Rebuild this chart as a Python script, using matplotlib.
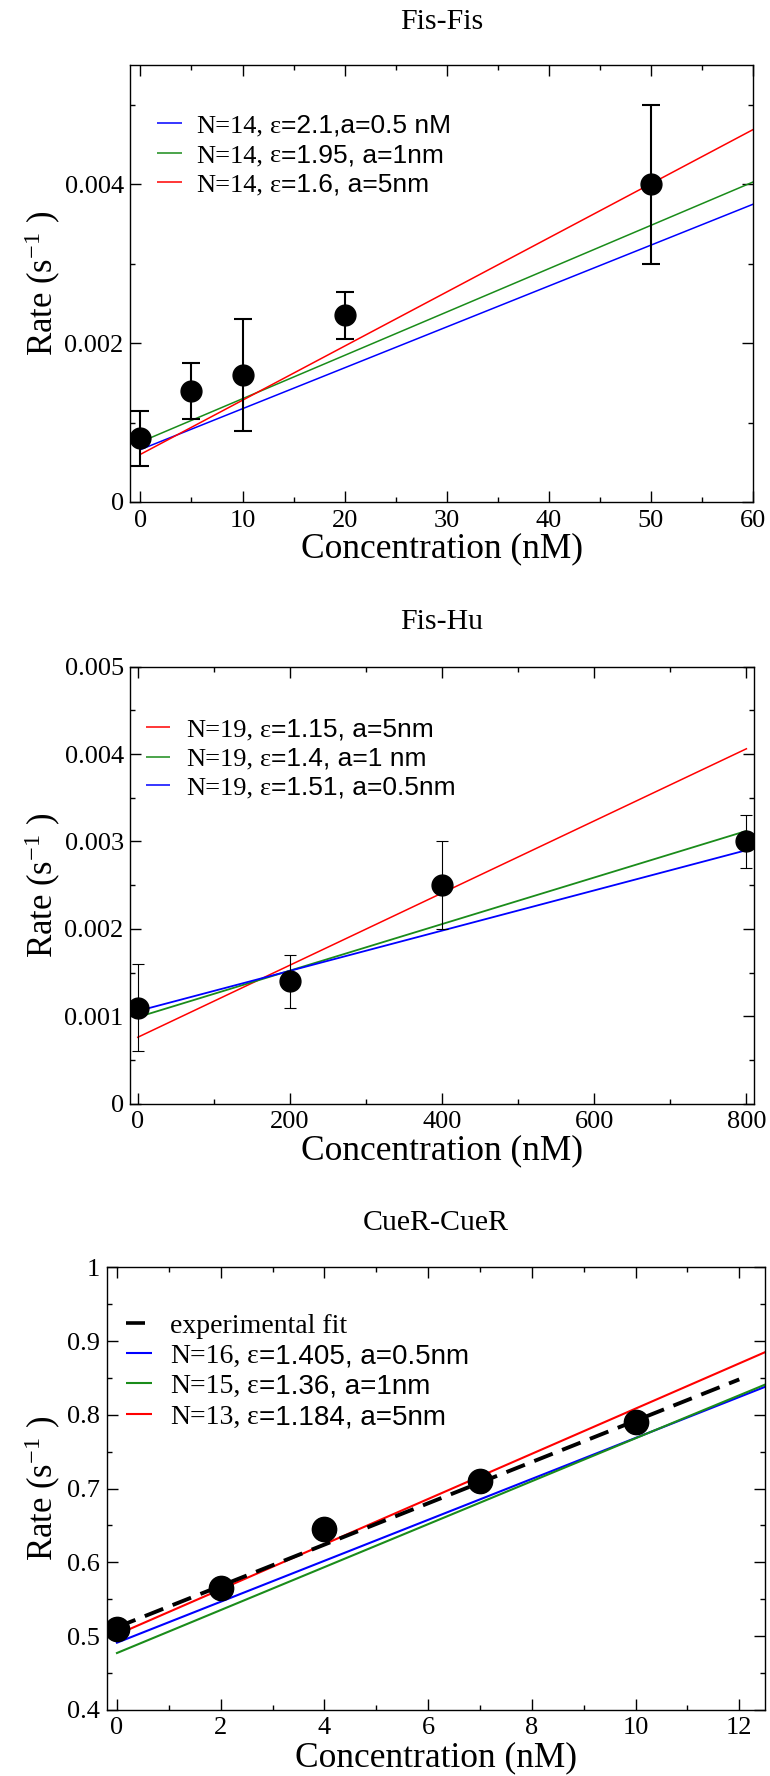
import matplotlib
matplotlib.use('Agg')
import matplotlib.pyplot as plt
from matplotlib.ticker import MultipleLocator, FuncFormatter

plt.rcParams['font.family'] = ['Liberation Serif', 'DejaVu Serif']
plt.rcParams['mathtext.fontset'] = 'custom'
plt.rcParams['mathtext.rm'] = 'Liberation Serif'
plt.rcParams['mathtext.it'] = 'Liberation Serif:italic'

# ---------------- data ----------------
# Panel 1: Fis-Fis
fisfis_conc = [0, 5, 10, 20, 50]
fisfis_rate = [0.0008, 0.0014, 0.0016, 0.00235, 0.0040]
fisfis_err = [0.00035, 0.00035, 0.0007, 0.0003, 0.0010]
fisfis_fit_conc = [0, 60]
fisfis_fit_blue = [0.00066, 0.00375]
fisfis_fit_green = [0.000755, 0.00403]
fisfis_fit_red = [0.00060, 0.00469]
fisfis_labels = [("N=14,", "=2.1,a=0.5 nM"),
                 ("N=14,", "=1.95, a=1nm"),
                 ("N=14,", "=1.6, a=5nm")]

# Panel 2: Fis-Hu
fishu_conc = [0, 200, 400, 800]
fishu_rate = [0.0011, 0.0014, 0.0025, 0.0030]
fishu_err = [0.0005, 0.0003, 0.0005, 0.0003]
fishu_fit_conc = [0, 800]
fishu_fit_red = [0.00076, 0.00406]
fishu_fit_green = [0.00099, 0.00312]
fishu_fit_blue = [0.00106, 0.00290]
fishu_labels = [("N=19,", "=1.15, a=5nm"),
                ("N=19,", "=1.4, a=1 nm"),
                ("N=19,", "=1.51, a=0.5nm")]

# Panel 3: CueR-CueR
cuer_conc = [0, 2, 4, 7, 10]
cuer_rate = [0.51, 0.565, 0.645, 0.71, 0.79]
cuer_exp_conc = [0, 12]
cuer_exp_fit = [0.512, 0.848]
cuer_fit_conc = [0, 12.5]
cuer_fit_blue = [0.491, 0.838]
cuer_fit_green = [0.477, 0.841]
cuer_fit_red = [0.502, 0.885]
cuer_exp_label = "experimental fit"
cuer_labels = [("N=16,", "=1.405, a=0.5nm"),
               ("N=15,", "=1.36, a=1nm"),
               ("N=13,", "=1.184, a=5nm")]

titles = ["Fis-Fis", "Fis-Hu", "CueR-CueR"]
xlabel = "Concentration (nM)"
ylabel = "Rate (s$^{\\mathregular{-1}}$ )"

# ---------------- style ----------------
BLUE = '#0000ff'
GREEN = '#1a8c1a'
RED = '#ff0000'
SERIF = 'Liberation Serif'
SANS = 'Liberation Sans'
TITLE_FS = 21.5
TICK_FS = 19
XLAB_FS = 25.5
YLAB_FS = 25

fig = plt.figure(figsize=(7.7, 17.76), dpi=100)
W, H = 770.0, 1776.0
renderer = fig.canvas.get_renderer()


def make_axes(left, right, top, bottom):
    return fig.add_axes([left / W, 1 - bottom / H, (right - left) / W, (bottom - top) / H])


def style_axes(ax, xmaj, xmin, ymaj, ymin, title, title_pad, xlab_y, ylab_x):
    ax.xaxis.set_major_locator(MultipleLocator(xmaj))
    ax.xaxis.set_minor_locator(MultipleLocator(xmin))
    ax.yaxis.set_major_locator(MultipleLocator(ymaj))
    ax.yaxis.set_minor_locator(MultipleLocator(ymin))
    fmt = FuncFormatter(lambda v, p: '%g' % round(v, 6))
    ax.xaxis.set_major_formatter(fmt)
    ax.yaxis.set_major_formatter(fmt)
    ax.tick_params(which='both', direction='in', top=True, right=True, width=1.0,
                   labelsize=TICK_FS, colors='black', labelfontfamily=SERIF)
    ax.tick_params(which='major', length=8)
    ax.tick_params(which='minor', length=3.6)
    ax.tick_params(axis='y', which='major', pad=4.7)
    ax.tick_params(axis='x', which='major', pad=5.5)
    for sp in ax.spines.values():
        sp.set_linewidth(1.0)
        sp.set_color('black')
    ax.set_title(title, fontsize=TITLE_FS, pad=title_pad, family=SERIF)
    ax.set_xlabel(xlabel, fontsize=XLAB_FS, family=SERIF)
    ax.set_ylabel(ylabel, fontsize=YLAB_FS, family=SERIF)
    ax.xaxis.set_label_coords(0.5, xlab_y)
    ax.yaxis.set_label_coords(ylab_x, 0.5)


def legend_row(ax, xf, yf, color, parts, line_px, gap_px, fs, lw=1.1, sample_px=None):
    """One legend entry: a short line sample followed by mixed-font text."""
    inv = ax.transAxes.inverted()
    x0, y0 = ax.transAxes.transform((xf, yf))
    L = sample_px if sample_px else line_px
    x1f, _ = inv.transform((x0 + L, y0))
    ax.plot([xf, x1f], [yf, yf], transform=ax.transAxes, color=color, lw=lw,
            solid_capstyle='butt', clip_on=False)
    em = fs * fig.dpi / 72.0
    yb = y0 - 0.355 * em
    x = x0 + line_px + gap_px
    for kind, txt in parts:
        if kind == 'space':
            x += txt * em
            continue
        fam = SERIF if kind == 'serif' else SANS
        xa, ya = inv.transform((x, yb))
        t = ax.text(xa, ya, txt, transform=ax.transAxes, ha='left', va='baseline',
                    family=fam, size=fs, color='black')
        x += t.get_window_extent(renderer).width


def model_parts(lab):
    return [('serif', lab[0]), ('space', 0.25), ('serif', '\u03b5'), ('sans', lab[1])]


# ---------------- panel 1 ----------------
ax1 = make_axes(130.2, 753.0, 65.3, 502.0)
ax1.plot(fisfis_fit_conc, fisfis_fit_blue, color=BLUE, lw=1.1)
ax1.plot(fisfis_fit_conc, fisfis_fit_green, color=GREEN, lw=1.1)
ax1.plot(fisfis_fit_conc, fisfis_fit_red, color=RED, lw=1.1)
ax1.errorbar(fisfis_conc, fisfis_rate, yerr=fisfis_err, fmt='o', color='black', ms=15,
             elinewidth=1.5, capsize=6.8, capthick=1.5, zorder=4)
ax1.set_xlim(-1, 60)
ax1.set_ylim(0, 0.0055)
style_axes(ax1, 10, 5, 0.002, 0.001, titles[0], 25.8, -0.0700, -0.1080)
for (lab, col, yf) in zip(fisfis_labels, [BLUE, GREEN, RED], [0.8672, 0.7996, 0.7323]):
    legend_row(ax1, 0.0424, yf, col, model_parts(lab), 25.0, 15.0, 19.0)

# ---------------- panel 2 ----------------
ax2 = make_axes(130.2, 754.0, 666.6, 1103.7)
ax2.plot(fishu_fit_conc, fishu_fit_red, color=RED, lw=1.1)
ax2.plot(fishu_fit_conc, fishu_fit_green, color=GREEN, lw=1.3)
ax2.plot(fishu_fit_conc, fishu_fit_blue, color=BLUE, lw=1.3)
ax2.errorbar(fishu_conc, fishu_rate, yerr=fishu_err, fmt='o', color='black', ms=15,
             elinewidth=0.8, capsize=4.0, capthick=0.8, zorder=4)
ax2.set_xlim(-10, 810)
ax2.set_ylim(0, 0.005)
style_axes(ax2, 200, 100, 0.001, 0.0005, titles[1], 27.2, -0.0690, -0.1080)
for (lab, col, yf) in zip(fishu_labels, [RED, GREEN, BLUE], [0.8607, 0.7943, 0.7282]):
    legend_row(ax2, 0.0253, yf, col, model_parts(lab), 24.5, 16.0, 19.0)

# ---------------- panel 3 ----------------
ax3 = make_axes(106.6, 765.2, 1267.3, 1709.8)
ax3.plot(cuer_fit_conc, cuer_fit_blue, color=BLUE, lw=1.5)
ax3.plot(cuer_fit_conc, cuer_fit_green, color=GREEN, lw=1.5)
ax3.plot(cuer_fit_conc, cuer_fit_red, color=RED, lw=1.5)
ax3.plot(cuer_exp_conc, cuer_exp_fit, color='black', lw=2.8, ls=(0, (5.1, 2.6)))
ax3.plot(cuer_conc, cuer_rate, 'o', color='black', ms=17.5, zorder=4)
ax3.set_xlim(-0.2, 12.5)
ax3.set_ylim(0.4, 1.0)
style_axes(ax3, 2, 1, 0.1, 0.05, titles[2], 27.2, -0.0716, -0.0662)
legend_row(ax3, 0.0295, 0.8734, 'black', [('serif', cuer_exp_label)], 25.7, 18.3, 20.0,
           lw=2.6, sample_px=19.0)
for (lab, col, yf) in zip(cuer_labels, [BLUE, GREEN, RED], [0.8056, 0.7378, 0.6678]):
    legend_row(ax3, 0.0295, yf, col, model_parts(lab), 25.7, 18.3, 20.0, lw=1.5)

fig.savefig('out.png', dpi=100)
